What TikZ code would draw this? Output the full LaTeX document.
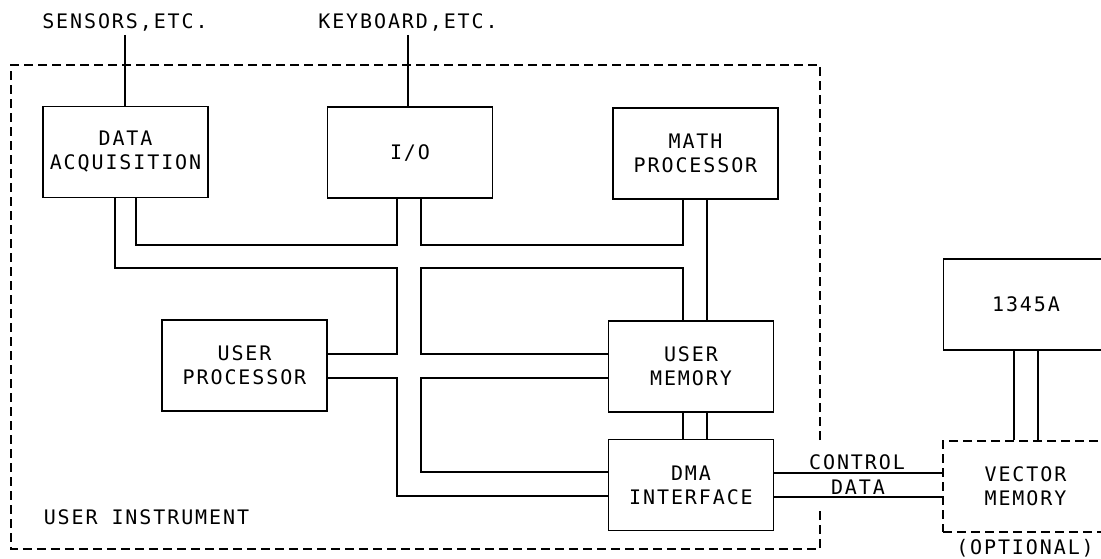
\documentclass[tikz,border=0pt]{standalone}
\usepackage{fontspec}
\setmainfont[LetterSpace=9.5]{DejaVu Sans Mono}
\begin{document}
\begin{tikzpicture}[x=1pt, y=-1pt, line width=1.5pt,
    every node/.style={font=\fontsize{20}{24}\selectfont},
    unit/.style={draw, minimum width=165pt, minimum height=91pt, inner sep=0pt, align=center},
    optional/.style={dash pattern=on 9pt off 5pt, line width=1.2pt}]
  \useasboundingbox (0,0) rectangle (1101,558);
  \clip (0,0) rectangle (1101,558);

  \node (daq) at (125.5,152) [unit] {DATA\\ACQUISITION};
  \node (io) at (410,152.5) [unit] {I/O};
  \node (math) at (695.5,153.5) [unit] {MATH\\PROCESSOR};
  \node (uproc) at (244.5,365.5) [unit] {USER\\PROCESSOR};
  \node (umem) at (691,366.5) [unit] {USER\\MEMORY};
  \node (dma) at (691,485) [unit] {DMA\\INTERFACE};
  \node (disp) at (1026,304.5) [unit] {1345A};
  \node (vmem) at (1025.5,486.5) [unit,optional] {VECTOR\\MEMORY};

  \node (sens) at (125,22) {SENSORS,ETC.};
  \node (keyb) at (408,22) {KEYBOARD,ETC.};
  \node (inst) at (43,517) [anchor=west, inner sep=0pt] {USER INSTRUMENT};
  \node (ctrl) at (857,462) {CONTROL};
  \node (data) at (858,487) {DATA};
  \node (opt) at (1025,548) {(OPTIONAL)};

  % outer frame
  \draw[optional] (820,440) -- (820,65) -- (11,65) -- (11,549) -- (820,549) -- (820,510);

  \draw (sens.south) -- (sens.south |- daq.north);
  \draw (keyb.south) -- (keyb.south |- io.north);

  % bus
  \draw ([xshift=10.5pt]daq.south) |- (397,245) -- ([xshift=-13pt]io.south);
  \draw ([xshift=-10.5pt]daq.south) |- (397,268) |- ([yshift=11.5pt]uproc.east);
  \draw ([xshift=11pt]io.south) |- (683,245) -- ([xshift=-12.5pt]math.south);
  \draw ([xshift=-8pt]umem.north) |- (421,268) |- ([yshift=12.5pt]umem.west);
  \draw ([xshift=11.5pt]math.south) -- ([xshift=16pt]umem.north);
  \draw ([yshift=-12.5pt]uproc.east) -| (397,496) -- ([yshift=-11pt]dma.west);
  \draw ([yshift=-11.5pt]umem.west) -| (421,472) -- ([yshift=13pt]dma.west);
  \draw ([xshift=-8pt]umem.south) -- ([xshift=-8pt]dma.north);
  \draw ([xshift=16pt]umem.south) -- ([xshift=16pt]dma.north);

  \draw ([yshift=12pt]dma.east) -- ([yshift=12pt]dma.east -| vmem.west);
  \draw ([yshift=-12pt]dma.east) -- ([yshift=-12pt]dma.east -| vmem.west);
  \draw ([xshift=-12pt]disp.south) -- ([xshift=-12pt]disp.south |- vmem.north);
  \draw ([xshift=12pt]disp.south) -- ([xshift=12pt]disp.south |- vmem.north);

\end{tikzpicture}
\end{document}
